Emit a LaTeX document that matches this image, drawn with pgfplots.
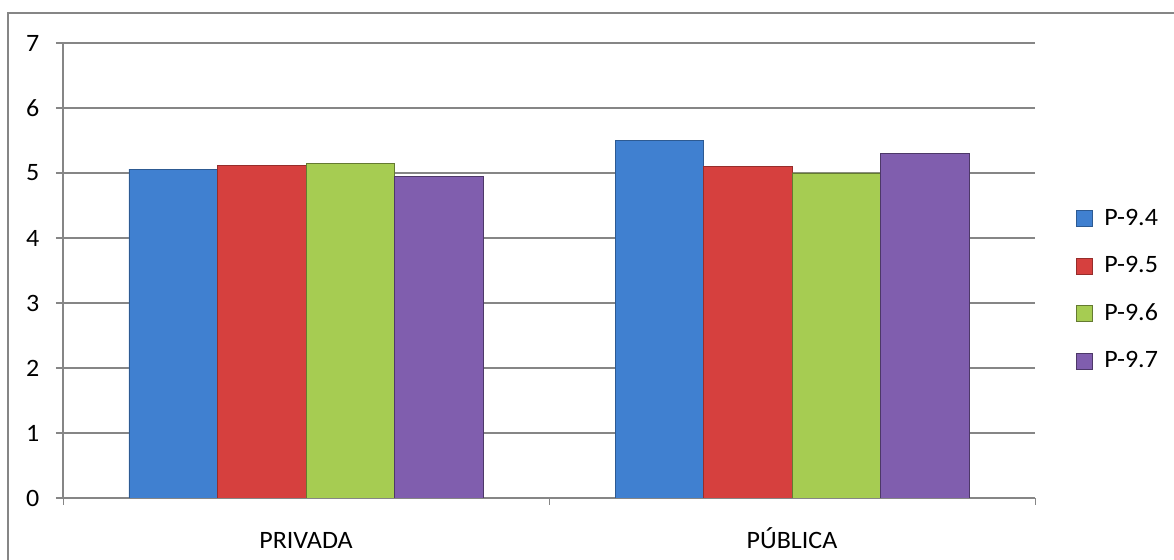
\documentclass[border=0pt]{standalone}
\usepackage{fontspec}
\setmainfont{Carlito}[FakeStretch=1.04]
\usepackage{pgfplots}
\pgfplotsset{compat=1.18}
\definecolor{cblue}{RGB}{64,128,208}
\definecolor{cred}{RGB}{214,64,62}
\definecolor{cgreen}{RGB}{166,204,82}
\definecolor{cpurple}{RGB}{128,94,174}
\definecolor{axgray}{RGB}{134,134,134}
\begin{document}
\begin{tikzpicture}
\begin{axis}[
  scale only axis,
  width=486pt, height=227.5pt,
  ymin=0, ymax=7, ytick={0,1,...,7},
  xmin=-0.5, xmax=1.5,
  xtick={0,1}, xticklabels={PRIVADA, PÚBLICA},
  major x tick style={draw=none},
  extra x ticks={-0.5,0.5,1.5}, extra x tick labels={},
  extra x tick style={major tick length=3.5pt, tick align=outside, xmajorgrids=false, major x tick style={draw=axgray}},
  axis x line=bottom, axis y line=left,
  axis line style={draw=axgray, line width=0.6pt, -},
  y tick style={draw=axgray, line width=0.6pt},
  ytick align=outside, major tick length=3.5pt,
  ymajorgrids, grid style={draw=axgray, line width=0.6pt},
  tick label style={font=\fontsize{12.5}{14}\selectfont, text=black},
  /pgf/number format/assume math mode=true,
  yticklabel style={xshift=-4.8pt},
  xticklabel style={anchor=base, yshift=-22pt},
  ybar=0pt, bar width=44.25pt,
  legend style={at={(1.0356,0.457)}, anchor=west, draw=none, fill=none,
    font=\fontsize{12.5}{14}\selectfont, row sep=10pt},
  legend cell align=left,
  legend image code/.code={\fill[#1] (0pt,-4pt) rectangle (8pt,4pt);
     \draw[#1] (0pt,-4pt) rectangle (8pt,4pt);
     \path[draw=none, fill=none] (0pt,0pt) -- (12pt,0pt);},
]
\addplot[fill=cblue, draw=cblue!70!black, line width=0.4pt] coordinates {(0,5.06) (1,5.50)};
\addplot[fill=cred, draw=cred!70!black, line width=0.4pt] coordinates {(0,5.11) (1,5.10)};
\addplot[fill=cgreen, draw=cgreen!60!black, line width=0.4pt] coordinates {(0,5.15) (1,5.00)};
\addplot[fill=cpurple, draw=cpurple!60!black, line width=0.4pt] coordinates {(0,4.95) (1,5.30)};
\legend{P-9.4, P-9.5, P-9.6, P-9.7}
\end{axis}
\draw[axgray, line width=0.7pt] (-27.5pt,-40pt) -- (-27.5pt,242.5pt) -- (560pt,242.5pt);
\pgfresetboundingbox
\useasboundingbox (-31.5pt,-31pt) rectangle (555.5pt,249pt);
\end{tikzpicture}
\end{document}
